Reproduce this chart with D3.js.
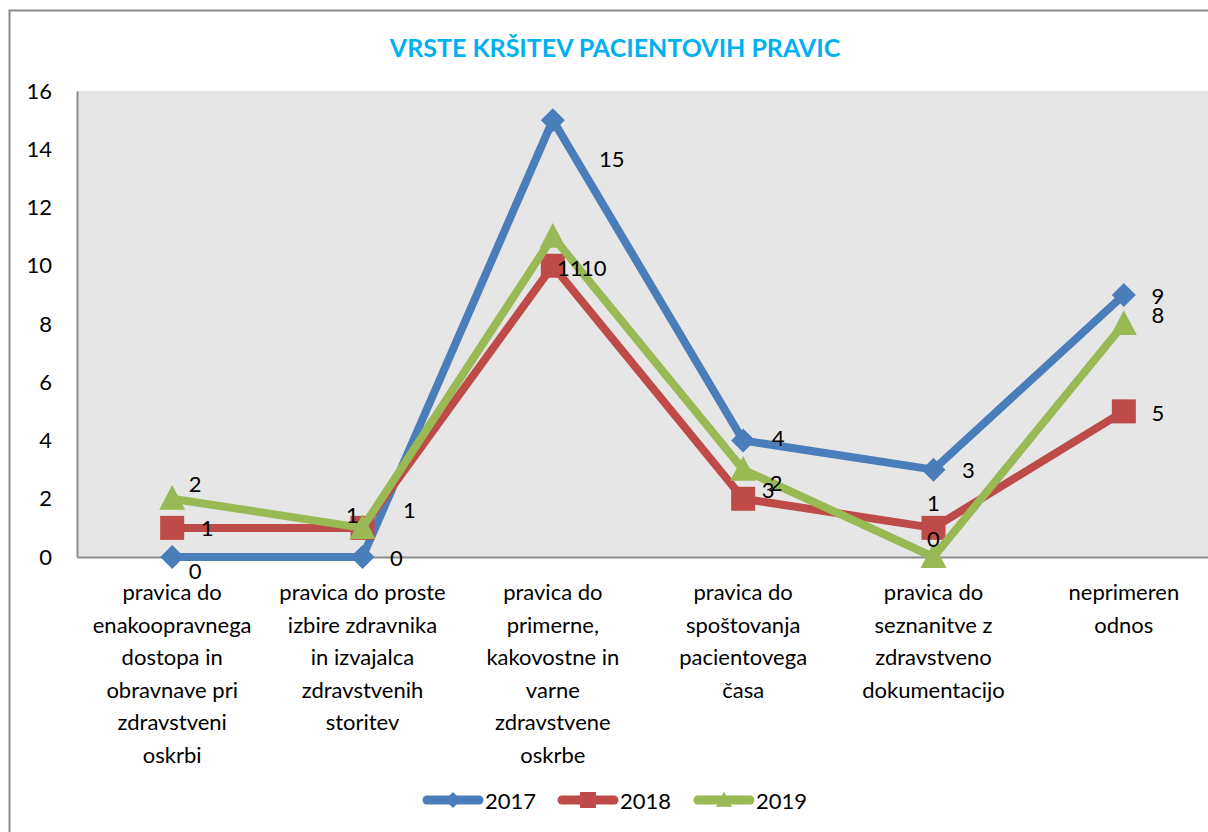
<!DOCTYPE html>
<html><head><meta charset="utf-8">
<script src="https://cdn.jsdelivr.net/npm/d3@7"></script>
<style>body{margin:0;background:#fff}svg{display:block}text{font-family:Lato,"Open Sans",sans-serif}</style>
</head><body><svg id="c" width="1208" height="832"></svg>
<script>
const categories = [
  ["pravica do","enakoopravnega","dostopa in","obravnave pri","zdravstveni","oskrbi"],
  ["pravica do proste","izbire zdravnika","in izvajalca","zdravstvenih","storitev"],
  ["pravica do","primerne,","kakovostne in","varne","zdravstvene","oskrbe"],
  ["pravica do","spoštovanja","pacientovega","časa"],
  ["pravica do","seznanitve z","zdravstveno","dokumentacijo"],
  ["neprimeren","odnos"]
];
const years = ["2017","2018","2019"];
const v2017 = [0,0,15,4,3,9];
const v2018 = [1,1,10,2,1,5];
const v2019 = [2,1,11,3,0,8];
const yTicks = [0,2,4,6,8,10,12,14,16];
const title = "VRSTE KRŠITEV PACIENTOVIH PRAVIC";

// label placement offsets (style config)
const labelOffsets = [
  [[23,13],[34,0],[59,38],[35,-3],[35,0],[34,1]],
  [[35,0],[-10,-13],[41,2],[33,-16],[0,-25],[34,1]],
  [[23,-15],[47,-18],[17,31],[25,20],[0,-19],[34,-10]]
];
const colors = ["#4a7ebb","#be4b48","#98b954"];
const shapes = ["diamond","square","triangle"];
const series = [v2017,v2018,v2019];

const svg = d3.select("#c");
const pL = 77, pR = 1219, pT = 91, pB = 557;

// outer border
svg.append("rect").attr("x",9.5).attr("y",10.5).attr("width",1220).attr("height",840)
  .attr("fill","none").attr("stroke","#8c8c8c").attr("stroke-width",2);

svg.append("text").attr("x",615).attr("y",57).attr("text-anchor","middle")
  .attr("font-size",25).attr("font-weight","bold").attr("fill","#00b0f0").text(title);

const x = d3.scaleBand().domain(d3.range(categories.length)).range([pL,pR]);
const y = d3.scaleLinear().domain([0,16]).range([pB,pT]);
const cx = i => x(i) + x.bandwidth()/2;

svg.append("rect").attr("x",pL).attr("y",pT).attr("width",pR-pL).attr("height",pB-pT).attr("fill","#e6e6e6");

// y axis
const ya = svg.append("g").attr("transform",`translate(${pL},0)`)
  .call(d3.axisLeft(y).tickValues(yTicks).tickSize(0).tickPadding(25));
ya.select(".domain").attr("stroke","#8c8c8c").attr("stroke-width",2);
ya.selectAll("text").attr("font-size",22).attr("fill","#000").style("font-family","Lato");

// x axis
const xa = svg.append("g").attr("transform",`translate(0,${pB})`)
  .call(d3.axisBottom(x).tickSize(0).tickFormat(""));
xa.select(".domain").attr("stroke","#8c8c8c").attr("stroke-width",2);
categories.forEach((lines,i)=>{
  const t = svg.append("text").attr("text-anchor","middle").attr("font-size",22).attr("fill","#000");
  lines.forEach((l,j)=>{
    t.append("tspan").attr("x",cx(i)).attr("y",600 + j*32.5).text(l);
  });
});

function marker(g, shape, px, py, s, color){
  if(shape==="diamond"){
    g.append("path").attr("d",`M${px},${py-s}L${px+s},${py}L${px},${py+s}L${px-s},${py}Z`).attr("fill",color);
  } else if(shape==="square"){
    g.append("rect").attr("x",px-s).attr("y",py-s).attr("width",2*s).attr("height",2*s).attr("fill",color);
  } else {
    g.append("path").attr("d",`M${px},${py-s*1.05}L${px+s},${py+s*0.85}L${px-s},${py+s*0.85}Z`).attr("fill",color);
  }
}
const markerSize = [12,12,13];

const line = d3.line().x((d,i)=>cx(i)).y(d=>y(d));
series.forEach((vals,si)=>{
  const g = svg.append("g");
  g.append("path").datum(vals).attr("d",line).attr("fill","none").attr("stroke",colors[si])
    .attr("stroke-width",8).attr("stroke-linejoin","round");
  vals.forEach((v,i)=>marker(g, shapes[si], cx(i), y(v), markerSize[si], colors[si]));
});
series.forEach((vals,si)=>{
  vals.forEach((v,i)=>{
    svg.append("text").attr("x",cx(i)+labelOffsets[si][i][0]).attr("y",y(v)+labelOffsets[si][i][1])
      .attr("text-anchor","middle").attr("dominant-baseline","central").attr("font-size",22).attr("fill","#000").text(v);
  });
});

// legend
const legX = [423,558,694];
years.forEach((yr,si)=>{
  const g = svg.append("g");
  g.append("line").attr("x1",legX[si]+4).attr("x2",legX[si]+56).attr("y1",800).attr("y2",800)
    .attr("stroke",colors[si]).attr("stroke-width",9).attr("stroke-linecap","round");
  marker(g, shapes[si], legX[si]+30, 800, 8, colors[si]);
  g.append("text").attr("x",legX[si]+62).attr("y",800).attr("dominant-baseline","central")
    .attr("font-size",22).attr("fill","#000").text(yr);
});
</script></body></html>
